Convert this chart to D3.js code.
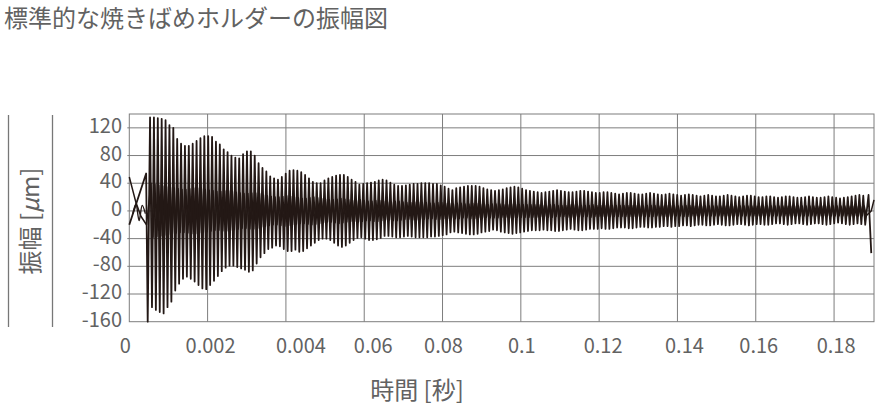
<!DOCTYPE html>
<html><head><meta charset="utf-8">
<script src="https://cdn.jsdelivr.net/npm/d3@7"></script>
<style>
body{margin:0;background:#fff;}
svg text{font-family:"Noto Sans CJK JP","Noto Sans",sans-serif;fill:#626262;}
</style></head><body>
<svg id="c" width="894" height="420"></svg>
<script>
// ---------- data ----------
const titleText = "標準的な焼きばめホルダーの振幅図";
const xLabelText = "時間 [秒]";
const yLabelText = "振幅 [";
const yLabelUnit = "μ";
const yLabelTail = "m]";
const xTickValues = [0, 0.02, 0.04, 0.06, 0.08, 0.1, 0.12, 0.14, 0.16, 0.18];
const xTickLabels = ["0", "0.002", "0.004", "0.06", "0.08", "0.1", "0.12", "0.14", "0.16", "0.18"];
const yTickValues = [-160, -120, -80, -40, 0, 40, 80, 120];
const xDomain = [0, 0.1902];
const yDomain = [-160, 140];

// main trace: lead-in, then cycle peaks, then tail
const mainLeadTimes = [0, 0.0043, 0.0047];
const mainLeadValues = [-20, 54, -160];
const mainStart = 0.0053;
const mainPeriod = 0.00099;
const mainTops = [
135,135,134,133,131,124,120,104,97,94,
94,97,101,105,108,108,107,100,96,89,
85,80,77,76,82,86,86,80,69,62,
57,50,47,45,49,54,58,59,58,56,
52,47,42,40,40,44,47,49,51,52,
52,49,45,42,38,39,40,41,42,44,
45,44,41,38,36,36,37,38,39,39,
40,40,40,39,39,37,35,32,30,33,
34,35,36,36,36,35,33,31,30,29,
30,31,33,34,35,34,32,30,29,28,
27,26,27,28,29,30,29,28,27,27,
28,29,29,28,27,26,26,27,27,26,
25,24,25,26,26,25,24,24,25,26,
25,24,23,24,25,24,23,22,23,24,
23,22,21,22,23,22,21,21,22,23,
22,21,20,21,22,22,21,20,20,21,
21,20,19,20,21,21,20,19,19,20,
21,20,19,19,20,21,20,19,18,19,
20,21,22,23,22];
const mainBottoms = [
-139,-143,-146,-148,-139,-131,-115,-105,-98,-95,
-98,-102,-107,-112,-113,-107,-101,-94,-87,-82,
-79,-79,-81,-83,-85,-88,-86,-76,-67,-61,
-55,-53,-50,-51,-55,-58,-58,-56,-59,-58,
-54,-50,-46,-42,-40,-40,-42,-46,-50,-52,
-50,-46,-42,-39,-38,-40,-42,-42,-41,-39,
-36,-36,-37,-38,-38,-37,-36,-37,-38,-38,
-38,-38,-37,-37,-36,-35,-34,-31,-30,-31,
-32,-33,-34,-34,-33,-31,-30,-29,-27,-28,
-30,-31,-32,-33,-32,-31,-30,-29,-28,-28,
-28,-27,-28,-28,-29,-29,-28,-27,-26,-27,
-28,-28,-27,-26,-26,-26,-25,-26,-26,-25,
-24,-24,-24,-25,-25,-24,-23,-23,-24,-24,
-23,-23,-22,-22,-23,-22,-22,-21,-21,-22,
-21,-20,-20,-21,-21,-20,-19,-20,-21,-21,
-20,-19,-19,-20,-21,-20,-19,-19,-20,-20,
-19,-18,-18,-19,-20,-19,-18,-18,-19,-20,
-19,-18,-18,-19,-20,-19,-18,-17,-18,-19,
-20,-19,-18,-19,-20];
const mainTailTimes = [0.1888, 0.1895];
const mainTailValues = [23, -61];

// second trace: lead-in, small inner oscillation, tail
const innerLeadTimes = [0, 0.0017, 0.0030, 0.0044];
const innerLeadValues = [49, 12, -8, -20];
const innerStart = 0.00555;
const innerPeriod = 0.00099;
const innerTops = [
40,38,37,36,35,34,33,32,31,31,
32,33,33,32,31,30,29,28,28,29,
29,28,27,26,25,25,26,26,25,23,
22,21,20,20,21,22,21,20,19,18,
18,19,20,19,18,17,16,16,17,18,
17,16,15,15,16,15,14,14,15,15,
14,13,13,14,14,13,12,12,13,13,
12,12,11,11,12,12,11,11,10,11,
11,10,10,11,11,10,10,9,10,10,
10,9,9,10,10,9,9,9,9,9,
9,8,8,9,9,8,8,8,9,9,
8,8,8,8,9,8,8,8,8,8,
8,8,8,8,8,8,8,7,8,8,
8,7,7,8,8,7,7,7,8,8,
7,7,7,7,7,7,7,7,7,7,
7,7,7,7,7,7,7,7,7,7,
7,7,7,7,7,7,7,7,7,7,
7,7,7,7,7,7,7,7,7,7,
7,7,7,7,7];
const innerBottoms = [
-38,-37,-36,-35,-34,-33,-32,-31,-31,-32,
-33,-33,-32,-31,-30,-29,-28,-28,-29,-29,
-28,-27,-26,-25,-25,-26,-26,-25,-23,-22,
-21,-20,-20,-21,-22,-21,-20,-19,-18,-18,
-19,-20,-19,-18,-17,-16,-16,-17,-18,-17,
-16,-15,-15,-16,-15,-14,-14,-15,-15,-14,
-13,-13,-14,-14,-13,-12,-12,-13,-13,-12,
-12,-11,-11,-12,-12,-11,-11,-10,-11,-11,
-10,-10,-11,-11,-10,-10,-9,-10,-10,-10,
-9,-9,-10,-10,-9,-9,-9,-9,-9,-9,
-8,-8,-9,-9,-8,-8,-8,-9,-9,-8,
-8,-8,-8,-9,-8,-8,-8,-8,-8,-8,
-8,-8,-8,-8,-8,-8,-7,-8,-8,-8,
-7,-7,-8,-8,-7,-7,-7,-8,-8,-7,
-7,-7,-7,-7,-7,-7,-7,-7,-7,-7,
-7,-7,-7,-7,-7,-7,-7,-7,-7,-7,
-7,-7,-7,-7,-7,-7,-7,-7,-7,-7,
-7,-7,-7,-7,-7,-7,-7,-7,-7,-7,
-7,-7,-7,-7,-7];
const innerTailTimes = [0.1895, 0.1902];
const innerTailValues = [0, 16];

// small loop drawn near the start
const loopTimes = [0.0009, 0.0017, 0.0025, 0.0033, 0.0041];
const loopValues = [-4, 10, -14, 8, -4];

// ---------- layout / style ----------
const plot = {left: 129.3, right: 874, top: 114, bottom: 321.7};
const xLabelNudge = [-4, 3, 15, 9, 1, 1, 4, 7, 3, 2];
const gridColor = "#7d7d7d";
const lineColor = "#231815";

// ---------- build series ----------
function buildSeries(leadT, leadV, start, period, tops, bottoms, tailT, tailV) {
  const pts = leadT.map((t, i) => ({t, v: leadV[i]}));
  tops.forEach((v, k) => {
    pts.push({t: start + k * period, v});
    pts.push({t: start + (k + 0.5) * period, v: bottoms[k]});
  });
  tailT.forEach((t, i) => pts.push({t, v: tailV[i]}));
  return pts;
}
const mainSeries = buildSeries(mainLeadTimes, mainLeadValues, mainStart, mainPeriod, mainTops, mainBottoms, mainTailTimes, mainTailValues);
const innerSeries = buildSeries(innerLeadTimes, innerLeadValues, innerStart, innerPeriod, innerTops, innerBottoms, innerTailTimes, innerTailValues);
const loopSeries = loopTimes.map((t, i) => ({t, v: loopValues[i]}));

// ---------- draw ----------
const svg = d3.select("#c");
const x = d3.scaleLinear().domain(xDomain).range([plot.left, plot.right]);
const y = d3.scaleLinear().domain(yDomain).range([plot.bottom, plot.top]);

svg.append("text").attr("x", 4).attr("y", 27).attr("font-size", 24).text(titleText);

// grid
const g = svg.append("g");
g.selectAll("line.h").data(yTickValues.filter(v => v > yDomain[0])).join("line")
  .attr("x1", plot.left - 2).attr("x2", plot.right)
  .attr("y1", d => y(d)).attr("y2", d => y(d))
  .attr("stroke", gridColor).attr("stroke-width", 1);
g.selectAll("line.v").data(xTickValues.filter(v => v > 0)).join("line")
  .attr("x1", d => x(d)).attr("x2", d => x(d))
  .attr("y1", plot.top).attr("y2", plot.bottom)
  .attr("stroke", gridColor).attr("stroke-width", 1);
g.append("rect").attr("x", plot.left).attr("y", plot.top)
  .attr("width", plot.right - plot.left).attr("height", plot.bottom - plot.top)
  .attr("fill", "none").attr("stroke", gridColor).attr("stroke-width", 1);

// y tick labels
svg.append("g").selectAll("text").data(yTickValues).join("text")
  .attr("x", 122).attr("y", d => y(d) - 3.5)
  .attr("dominant-baseline", "central").attr("text-anchor", "end")
  .attr("font-size", 20).text(d => d);

// x tick labels
svg.append("g").selectAll("text").data(xTickValues).join("text")
  .attr("x", (d, i) => x(d) + xLabelNudge[i]).attr("y", 353)
  .attr("text-anchor", "middle").attr("font-size", 20)
  .text((d, i) => xTickLabels[i]);

// axis titles
svg.append("text").attr("x", 417).attr("y", 399).attr("text-anchor", "middle")
  .attr("font-size", 24).text(xLabelText);
const yl = svg.append("text").attr("transform", "translate(39,221) rotate(-90)")
  .attr("text-anchor", "middle").attr("font-size", 24);
yl.append("tspan").text(yLabelText);
yl.append("tspan").attr("font-style", "italic").text(yLabelUnit);
yl.append("tspan").text(yLabelTail);
svg.append("line").attr("x1", 8.5).attr("x2", 8.5).attr("y1", 115).attr("y2", 327).attr("stroke", "#777").attr("stroke-width", 1.3);
svg.append("line").attr("x1", 52.5).attr("x2", 52.5).attr("y1", 115).attr("y2", 327).attr("stroke", "#777").attr("stroke-width", 1.3);

// data lines
const line = d3.line().x(d => x(d.t)).y(d => y(d.v));
const curve = d3.line().x(d => x(d.t)).y(d => y(d.v)).curve(d3.curveCatmullRom);
svg.append("path").datum(loopSeries).attr("d", curve)
  .attr("fill", "none").attr("stroke", lineColor).attr("stroke-width", 1.4);
svg.append("path").datum(innerSeries).attr("d", line)
  .attr("fill", "none").attr("stroke", lineColor).attr("stroke-width", 1.5).attr("stroke-linejoin", "round");
svg.append("path").datum(mainSeries).attr("d", line)
  .attr("fill", "none").attr("stroke", lineColor).attr("stroke-width", 1.8).attr("stroke-linejoin", "round");
</script>
</body></html>
